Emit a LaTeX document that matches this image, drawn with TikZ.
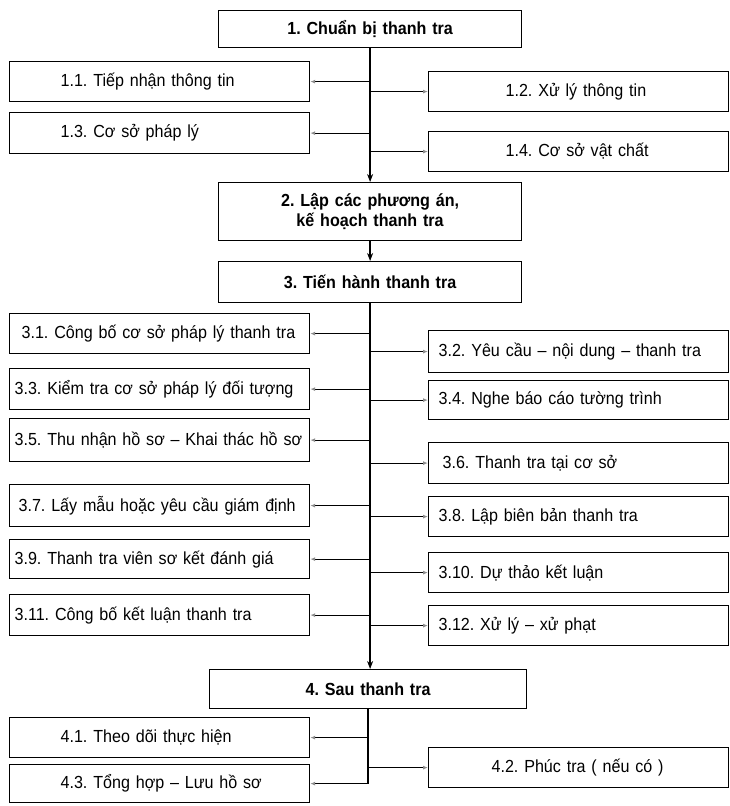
\documentclass[tikz,border=0pt]{standalone}
\usepackage{fontspec}
\setmainfont{Liberation Sans}[FakeStretch=0.92]
\usetikzlibrary{arrows.meta}

\begin{document}
\frenchspacing
\begin{tikzpicture}[x=1pt,y=-1pt,
  box/.style={draw=black, line width=1.2pt, anchor=north west,
    inner xsep=0pt, inner ysep=0pt, text width=300pt, align=left,
    minimum height=40pt, font=\fontsize{17.5}{20}\selectfont},
  headbox/.style={box, text width=303pt, align=center,
    font=\bfseries\fontsize{17.5}{20}\selectfont},
  trunk/.style={draw=black, line width=1.3pt},
  flow/.style={trunk, -{Stealth[length=8pt,width=6pt]}},
  branch/.style={draw=black, line width=1.1pt,
    -{Latex[length=5pt,width=4pt,color=black!45]}}
]
\useasboundingbox (0,0) rectangle (730,806);

% stage 1
\node[headbox, minimum height=37pt] (n1) at (218,10) {1. Chuẩn bị thanh tra};
\node[box] (n11) at (9,61)   {\hspace*{51pt}1.1. Tiếp nhận thông tin};
\node[box] (n12) at (428,71) {\hspace*{77pt}1.2. Xử lý thông tin};
\node[box, minimum height=41pt] (n13) at (9,112) {\hspace*{51pt}1.3. Cơ sở pháp lý};
\node[box] (n14) at (428,131) {\hspace*{77pt}1.4. Cơ sở vật chất};

% stage 2
\node[headbox, minimum height=58pt] (n2) at (218,182) {2. Lập các phương án,\\kế hoạch thanh tra};

% stage 3
\node[headbox, minimum height=41pt] (n3) at (218,261) {3. Tiến hành thanh tra};
\node[box] (n31) at (9,313)   {\hspace*{12pt}3.1. Công bố cơ sở pháp lý thanh tra};
\node[box, minimum height=42pt] (n32) at (428,330) {\hspace*{10pt}3.2. Yêu cầu – nội dung – thanh tra};
\node[box, minimum height=41pt] (n33) at (9,368)   {\hspace*{5pt}3.3. Kiểm tra cơ sở pháp lý đối tượng};
\node[box, minimum height=39pt] (n34) at (428,380) {\hspace*{10pt}3.4. Nghe báo cáo tường trình};
\node[box, minimum height=43pt] (n35) at (9,418)   {\hspace*{5pt}3.5. Thu nhận hồ sơ – Khai thác hồ sơ};
\node[box, minimum height=41pt] (n36) at (428,442) {\hspace*{14pt}3.6. Thanh tra tại cơ sở};
\node[box, minimum height=42pt] (n37) at (9,484)   {\hspace*{9pt}3.7. Lấy mẫu hoặc yêu cầu giám định};
\node[box] (n38) at (428,496) {\hspace*{10pt}3.8. Lập biên bản thanh tra};
\node[box, minimum height=39pt] (n39) at (9,539)   {\hspace*{5pt}3.9. Thanh tra viên sơ kết đánh giá};
\node[box] (n310) at (428,552) {\hspace*{10pt}3.10. Dự thảo kết luận};
\node[box, minimum height=41pt] (n311) at (9,594)  {\hspace*{5pt}3.11. Công bố kết luận thanh tra};
\node[box] (n312) at (428,605) {\hspace*{10pt}3.12. Xử lý – xử phạt};

% stage 4
\node[headbox, text width=317pt, minimum height=39pt] (n4) at (209,669) {4. Sau thanh tra};
\node[box] (n41) at (9,717)   {\hspace*{51pt}4.1. Theo dõi thực hiện};
\node[box] (n42) at (428,747) {\hspace*{63pt}4.2. Phúc tra ( nếu có )};
\node[box, minimum height=38pt] (n43) at (9,764) {\hspace*{51pt}4.3. Tổng hợp – Lưu hồ sơ};

% main flow
\draw[flow] (n1.south) -- (n2.north);
\draw[flow] (n2.south) -- (n3.north);
\draw[flow] (n3.south) -- (n3.south |- n4.north);
\coordinate (t4end) at (n4.south |- n43.east);
\draw[trunk] (n4.south) -- (t4end);

% stage 1 branches
\foreach \b in {n11,n13} \draw[branch] (\b.east -| n1.south) -- (\b.east);
\foreach \b in {n12,n14} \draw[branch] (\b.west -| n1.south) -- (\b.west);

% stage 3 branches
\foreach \b in {n31,n33,n35,n37,n39,n311} \draw[branch] (\b.east -| n3.south) -- (\b.east);
\foreach \b in {n32,n34,n36,n38,n310,n312} \draw[branch] (\b.west -| n3.south) -- (\b.west);

% stage 4 branches
\foreach \b in {n41,n43} \draw[branch] (\b.east -| n4.south) -- (\b.east);
\draw[branch] (n42.west -| n4.south) -- (n42.west);
\end{tikzpicture}
\end{document}
